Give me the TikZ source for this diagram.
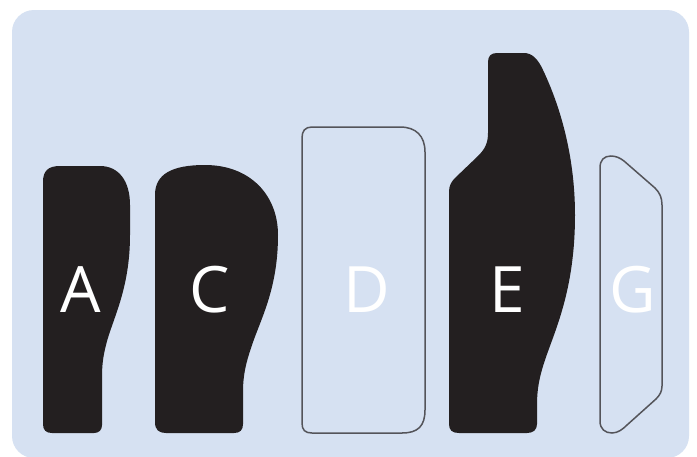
\documentclass[tikz,border=0pt]{standalone}
\usepackage{fontspec}
\setmainfont{Open Sans}
\definecolor{bgblue}{RGB}{214,225,242}
\definecolor{darkfill}{RGB}{35,31,32}
\definecolor{outline}{RGB}{84,84,90}
\begin{document}
\begin{tikzpicture}[x=1pt,y=-1pt,
  solidpiece/.style={fill=darkfill,draw=none},
  openpiece/.style={draw=outline,line width=1.5pt,fill=none},
  lbl/.style={anchor=base,text=white,inner sep=0pt,font=\fontsize{64}{64}\selectfont}]
\useasboundingbox (0,0) rectangle (697,456);
\clip (0,0) rectangle (697,456);
\fill[white] (0,0) rectangle (697,456);
\fill[bgblue,rounded corners=22pt] (12,10) rectangle (689,458);
% A
\path[solidpiece] (43,182) .. controls (43,171) and (48,166) .. (60,166) -- (100,166)
  .. controls (118,166) and (130,180) .. (130,205) -- (130,235)
  .. controls (130,290) and (112,320) .. (106,345) .. controls (103,357) and (102,365) .. (102,378)
  -- (102,425) .. controls (102,430) and (99,433) .. (94,433) -- (52,433)
  .. controls (46,433) and (43,430) .. (43,424) -- cycle;
% C
\path[solidpiece] (155,195) .. controls (155,174) and (172,165) .. (205,165)
  .. controls (250,165) and (278,195) .. (278,235)
  .. controls (278,290) and (260,320) .. (251,348) .. controls (246,363) and (243,375) .. (243,392)
  -- (243,424) .. controls (243,430) and (240,433) .. (234,433) -- (166,433)
  .. controls (159,433) and (155,430) .. (155,422) -- cycle;
% D
\path[openpiece] (302,138) .. controls (302,131) and (305,127) .. (312,127) -- (400,127)
  .. controls (416,127) and (425,136) .. (425,152) -- (425,410)
  .. controls (425,426) and (418,433) .. (402,433) -- (312,433)
  .. controls (305,433) and (302,430) .. (302,423) -- cycle;
% E
\path[solidpiece] (449,424) -- (449,192) .. controls (449,186) and (451,182) .. (455,178)
  -- (478,156) .. controls (485,149) and (488,143) .. (488,133) -- (488,62)
  .. controls (488,56) and (491,53) .. (497,53) -- (524,53)
  .. controls (532,53) and (538,59) .. (543,70)
  .. controls (562,110) and (575,160) .. (575,215)
  .. controls (575,290) and (555,330) .. (545,360) .. controls (539,378) and (537,390) .. (537,405)
  -- (537,424) .. controls (537,430) and (533,433) .. (527,433) -- (459,433)
  .. controls (452,433) and (449,430) .. (449,424) -- cycle;
% G
\path[openpiece] (600,168) .. controls (600,160) and (604,156) .. (611,156)
  .. controls (616,156) and (620,158) .. (624,161) -- (655,188)
  .. controls (660,193) and (662,198) .. (662,205) -- (662,386)
  .. controls (662,391) and (660,395) .. (656,399) -- (627,425)
  .. controls (623,429) and (618,433) .. (612,433)
  .. controls (605,433) and (600,429) .. (600,421) -- cycle;
% labels
\node[lbl] (la) at (81,312) {A};
\node[lbl] (lc) at (210,312) {C};
\node[lbl] (ld) at (367,312) {D};
\node[lbl] (le) at (507,312) {E};
\node[lbl] (lg) at (633,312) {G};
\end{tikzpicture}
\end{document}
